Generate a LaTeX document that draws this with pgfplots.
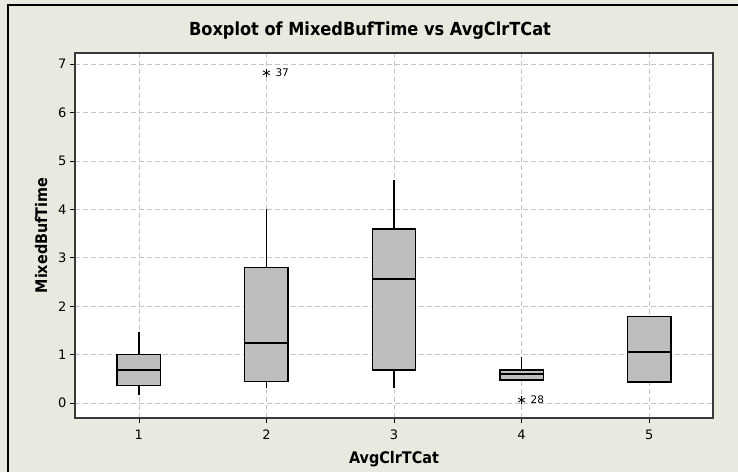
\documentclass[border=0pt]{standalone}
\usepackage{fontspec}
\setmainfont{DejaVu Sans}
\newfontfamily\condfont{DejaVu Sans Condensed}
\usepackage{pgfplots}
\pgfplotsset{compat=1.18}
\usepgfplotslibrary{statistics}
\definecolor{bgc}{HTML}{E9E9DF}
\definecolor{boxc}{HTML}{BEBEBE}
\definecolor{gridc}{HTML}{C4C4C4}
\definecolor{axc}{HTML}{3A3A3A}
\pgfplotsset{bx/.style={fill=boxc, draw=black, line width=1.5pt},
  om/.style={mark=asterisk, mark size=4pt, mark options={black, line width=0.8pt}}}
\newcommand{\tfont}{\fontsize{13}{14}\selectfont}
\begin{document}
\begin{tikzpicture}[x=1pt,y=1pt]
\useasboundingbox (0,0) rectangle (738,472);
\fill[bgc] (0,0) rectangle (738,472);
\draw[black,line width=2.2pt] (8,0) -- (8,467) -- (738,467);
\node[font=\condfont\bfseries\fontsize{18}{20}\selectfont] at (370,441) {Boxplot of MixedBufTime vs AvgClrTCat};
\begin{axis}[
  at={(75pt,54pt)}, anchor=south west,
  width=638pt, height=365pt, scale only axis,
  xmin=0.5, xmax=5.5, ymin=-0.31, ymax=7.23,
  xtick={1,2,3,4,5}, ytick={0,1,2,3,4,5,6,7},
  xticklabels={1,2,3,4,5}, yticklabels={0,1,2,3,4,5,6,7},
  axis background/.style={fill=white},
  axis line style={axc, line width=1.1pt},
  tick style={black, line width=0.6pt},
  tick align=outside, major tick length=5pt,
  xtick pos=bottom, ytick pos=left,
  grid=major,
  major grid style={gridc, dashed, dash pattern=on 5pt off 3pt, line width=0.6pt},
  xticklabel style={font=\tfont, yshift=-3pt},
  yticklabel style={font=\tfont},
  xlabel={\condfont\bfseries AvgClrTCat},
  ylabel={\condfont\bfseries MixedBufTime},
  label style={font=\fontsize{16}{18}\selectfont},
  xlabel style={yshift=-5pt},
  ylabel style={yshift=4pt},
  boxplot/draw direction=y,
  boxplot/box extend=0.34,
  boxplot/whisker extend=0,
  clip=false,
]
\addplot[bx, boxplot prepared={draw position=1, lower whisker=0.16, lower quartile=0.36, median=0.68, upper quartile=1.0, upper whisker=1.46}] coordinates {};
\addplot[bx, om, boxplot prepared={draw position=2, lower whisker=0.31, lower quartile=0.44, median=1.24, upper quartile=2.8, upper whisker=4.0}] coordinates {(0,6.82)};
\addplot[bx, boxplot prepared={draw position=3, lower whisker=0.3, lower quartile=0.68, median=2.56, upper quartile=3.59, upper whisker=4.6}] coordinates {};
\addplot[bx, om, boxplot prepared={draw position=4, lower whisker=0.47, lower quartile=0.47, median=0.6, upper quartile=0.68, upper whisker=0.95}] coordinates {(0,0.06)};
\addplot[bx, boxplot prepared={draw position=5, lower whisker=0.43, lower quartile=0.43, median=1.05, upper quartile=1.79, upper whisker=1.79}] coordinates {};
\node[anchor=west, font=\fontsize{10.5}{11}\selectfont, inner sep=0pt] at (axis cs:2.07,6.82) {37};
\node[anchor=west, font=\fontsize{10.5}{11}\selectfont, inner sep=0pt] at (axis cs:4.07,0.06) {28};
\end{axis}
\end{tikzpicture}
\end{document}
